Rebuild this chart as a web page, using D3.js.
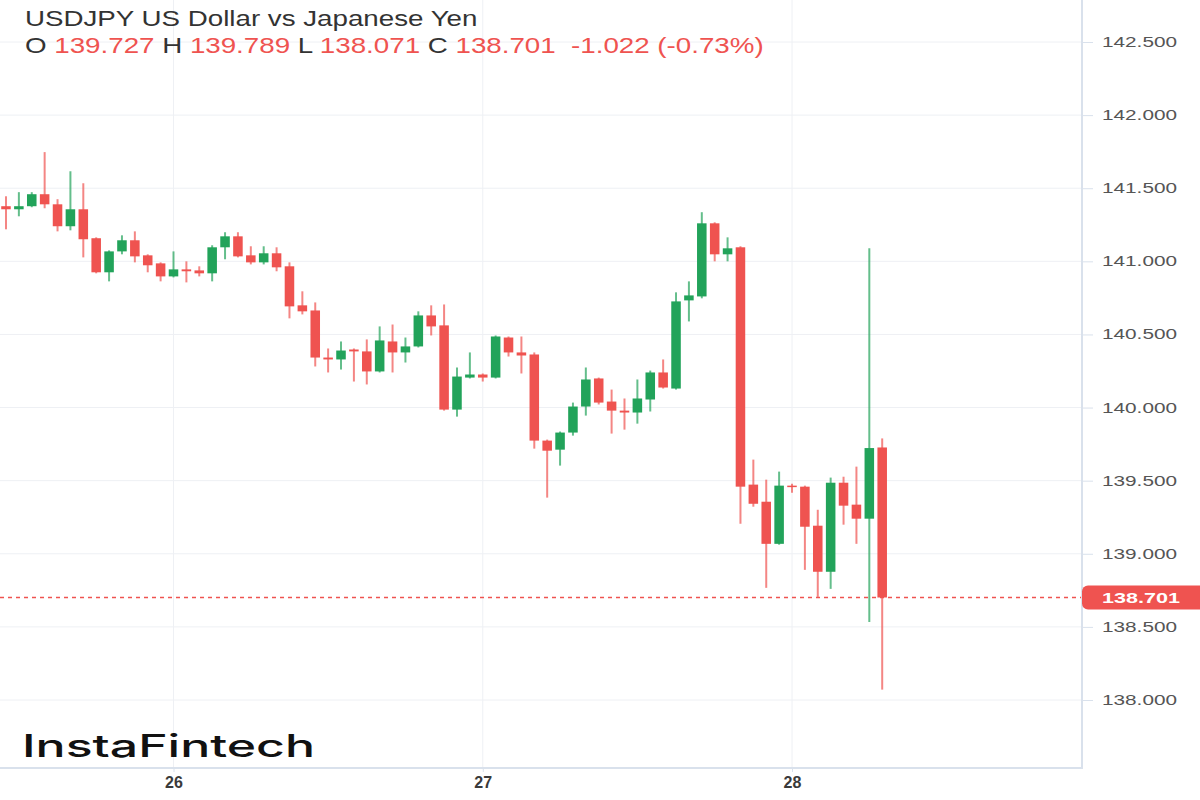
<!DOCTYPE html>
<html>
<head>
<meta charset="utf-8">
<script src="https://cdn.jsdelivr.net/npm/d3@7"></script>
<style>
    html, body { margin: 0; padding: 0; background: #fff; }
    svg { display: block; font-family: "Liberation Sans", Arial, sans-serif; }
</style>
</head>
<body>
<div id="chart"></div>
<script>
// hourly candles, 25 Jul 11:00 -> 28 Jul 07:00
const startHour = "2023-07-25T11:00:00Z";
const endHour = "2023-07-28T08:00:00Z";

const openPrices = [
    141.377, 141.356, 141.377, 141.459, 141.390, 141.240, 141.356, 141.158, 140.925, 141.068, 141.144, 141.041, 140.986,
    140.897, 140.945, 140.938, 140.918, 141.096, 141.171, 141.041, 140.993, 141.055, 140.966, 140.699, 140.664,
    140.342, 140.329, 140.397, 140.384, 140.247, 140.452, 140.377, 140.418, 140.630, 140.562, 139.986, 140.205,
    140.226, 140.205, 140.479, 140.377, 140.363, 139.774, 139.712, 139.829, 140.007, 140.199, 140.041, 139.979,
    139.966, 140.055, 140.240, 140.130, 140.733, 140.760, 141.260, 141.048, 141.096, 139.473, 139.356, 139.068,
    139.466, 139.459, 139.192, 138.877, 139.486, 139.336, 139.240, 139.727
];
const highPrices = [
    141.445, 141.473, 141.473, 141.747, 141.425, 141.616, 141.534, 141.164, 141.075, 141.178, 141.205, 141.048, 140.993,
    141.068, 141.000, 140.966, 141.110, 141.199, 141.199, 141.103, 141.103, 141.096, 140.993, 140.795, 140.719,
    140.404, 140.452, 140.404, 140.466, 140.555, 140.568, 140.479, 140.658, 140.699, 140.705, 140.274, 140.377,
    140.233, 140.493, 140.486, 140.486, 140.377, 139.781, 139.836, 140.034, 140.274, 140.205, 140.123, 140.062,
    140.192, 140.253, 140.329, 140.788, 140.863, 141.336, 141.267, 141.164, 141.103, 139.644, 139.507, 139.562,
    139.479, 139.466, 139.301, 139.521, 139.527, 139.596, 141.090, 139.789
];
const lowPrices = [
    141.219, 141.308, 141.370, 141.363, 141.205, 141.212, 141.027, 140.918, 140.863, 141.048, 140.993, 140.925, 140.863,
    140.890, 140.856, 140.897, 140.863, 141.014, 141.027, 140.979, 140.979, 140.932, 140.610, 140.637, 140.281,
    140.240, 140.260, 140.178, 140.158, 140.240, 140.240, 140.308, 140.411, 140.493, 139.979, 139.938, 140.199,
    140.178, 140.199, 140.349, 140.233, 139.719, 139.384, 139.603, 139.808, 139.945, 140.021, 139.822, 139.849,
    139.890, 139.973, 140.130, 140.123, 140.589, 140.747, 141.000, 141.000, 139.205, 139.322, 138.767, 139.062,
    139.418, 138.890, 138.705, 138.760, 139.199, 139.068, 138.534, 138.071
];
const closePrices = [
    141.356, 141.377, 141.459, 141.390, 141.240, 141.356, 141.151, 140.925, 141.068, 141.144, 141.034, 140.973, 140.897,
    140.945, 140.932, 140.918, 141.096, 141.171, 141.034, 140.993, 141.055, 140.959, 140.692, 140.658, 140.342,
    140.329, 140.390, 140.384, 140.247, 140.459, 140.377, 140.418, 140.630, 140.555, 139.986, 140.212, 140.226,
    140.205, 140.486, 140.377, 140.356, 139.774, 139.705, 139.829, 140.007, 140.192, 140.034, 139.979, 139.966,
    140.062, 140.240, 140.137, 140.726, 140.767, 141.260, 141.048, 141.089, 139.459, 139.342, 139.068, 139.466,
    139.459, 139.185, 138.877, 139.486, 139.329, 139.240, 139.723, 138.701
];

const dayTicks = ["2023-07-26T00:00:00Z", "2023-07-27T00:00:00Z", "2023-07-28T00:00:00Z"];
const priceTicks = [138.0, 138.5, 139.0, 139.5, 140.0, 140.5, 141.0, 141.5, 142.0, 142.5];
const lastPrice = 138.701;

const titleText = "USDJPY US Dollar vs Japanese Yen";
const ohlcKeys = ["O", "H", "L", "C"];
const ohlcValues = ["139.727", "139.789", "138.071", "138.701"];
const changeText = "-1.022 (-0.73%)";
const logoText = "InstaFintech";

const width = 1200;
const height = 800;
const plotRight = 1082;
const plotBottom = 768;

const upColor = "#22a35a";
const downColor = "#ef5350";
const gridColor = "#eef0f4";
const borderColor = "#d9e1ec";

let times = d3.utcHour.range(new Date(startHour), new Date(endHour));
let candles = times.map((t, i) => ({
    time: t,
    open: openPrices[i],
    high: highPrices[i],
    low: lowPrices[i],
    close: closePrices[i]
}));

let x = d3.scaleUtc()
    .domain([new Date(dayTicks[0]), new Date(dayTicks[2])])
    .range([173.5, 792]);

let y = d3.scaleLinear()
    .domain([138, 142.5])
    .range([700, 42]);

let step = x(times[1]) - x(times[0]);
let bodyWidth = step * 0.74;

let svg = d3.select("#chart")
    .append("svg")
    .attr("width", width)
    .attr("height", height);

svg.append("clipPath")
    .attr("id", "plot-clip")
    .append("rect")
    .attr("x", 0)
    .attr("y", 0)
    .attr("width", plotRight)
    .attr("height", plotBottom);

// grid
let grid = svg.append("g").attr("class", "grid");

grid.selectAll("line.h")
    .data(priceTicks)
    .enter().append("line")
    .attr("class", "h")
    .attr("x1", 0)
    .attr("x2", plotRight)
    .attr("y1", d => y(d))
    .attr("y2", d => y(d))
    .attr("stroke", gridColor)
    .attr("stroke-width", 1);

grid.selectAll("line.v")
    .data(dayTicks)
    .enter().append("line")
    .attr("class", "v")
    .attr("x1", d => x(new Date(d)))
    .attr("x2", d => x(new Date(d)))
    .attr("y1", 0)
    .attr("y2", plotBottom)
    .attr("stroke", gridColor)
    .attr("stroke-width", 1);

// candles
let candleG = svg.append("g")
    .attr("class", "candles")
    .attr("clip-path", "url(#plot-clip)")
    .selectAll("g")
    .data(candles)
    .enter().append("g");

candleG.append("line")
    .attr("x1", d => x(d.time))
    .attr("x2", d => x(d.time))
    .attr("y1", d => y(d.high))
    .attr("y2", d => y(d.low))
    .attr("stroke", d => d.close >= d.open ? upColor : downColor)
    .attr("stroke-width", 2)
    .attr("stroke-opacity", 0.7);

candleG.append("rect")
    .attr("x", d => x(d.time) - bodyWidth / 2)
    .attr("y", d => y(Math.max(d.open, d.close)))
    .attr("width", bodyWidth)
    .attr("height", d => Math.max(1.5, Math.abs(y(d.open) - y(d.close))))
    .attr("fill", d => d.close >= d.open ? upColor : downColor);

// last price line
svg.append("line")
    .attr("x1", 0)
    .attr("x2", plotRight)
    .attr("y1", Math.round(y(lastPrice)) + 0.5)
    .attr("y2", Math.round(y(lastPrice)) + 0.5)
    .attr("stroke", downColor)
    .attr("stroke-width", 1.3)
    .attr("stroke-dasharray", "4,4");

// borders
svg.append("line")
    .attr("x1", plotRight).attr("x2", plotRight)
    .attr("y1", 0).attr("y2", plotBottom)
    .attr("stroke", borderColor).attr("stroke-width", 2);

svg.append("line")
    .attr("x1", 0).attr("x2", plotRight + 1)
    .attr("y1", plotBottom).attr("y2", plotBottom)
    .attr("stroke", borderColor).attr("stroke-width", 2);

// price axis
let yAxis = svg.append("g")
    .attr("transform", `translate(${plotRight + 1},0)`)
    .call(d3.axisRight(y)
        .tickValues(priceTicks)
        .tickSize(10)
        .tickPadding(9)
        .tickFormat(d3.format(".3f")));

yAxis.select(".domain").remove();
yAxis.selectAll(".tick line").attr("stroke", borderColor);
yAxis.selectAll(".tick text")
    .attr("fill", "#555")
    .style("font-size", "14px")
    .attr("textLength", 75)
    .attr("lengthAdjust", "spacingAndGlyphs");

// time axis
let xAxis = svg.append("g")
    .attr("transform", `translate(0,${plotBottom})`)
    .call(d3.axisBottom(x)
        .tickValues(dayTicks.map(d => new Date(d)))
        .tickSize(4)
        .tickPadding(5)
        .tickFormat(d3.utcFormat("%-d")));

xAxis.select(".domain").remove();
xAxis.selectAll(".tick line").attr("stroke", borderColor);
xAxis.selectAll(".tick text")
    .attr("fill", "#3a3a3a")
    .style("font-size", "16px")
    .style("font-weight", "bold");

// last price badge
svg.append("rect")
    .attr("x", plotRight)
    .attr("y", y(lastPrice) - 12)
    .attr("width", 130)
    .attr("height", 24)
    .attr("rx", 6)
    .attr("fill", downColor);

svg.append("text")
    .attr("x", plotRight + 20)
    .attr("y", y(lastPrice) + 5.5)
    .attr("fill", "#fff")
    .style("font-size", "15px")
    .style("font-weight", "bold")
    .attr("textLength", 78)
    .attr("lengthAdjust", "spacingAndGlyphs")
    .text(d3.format(".3f")(lastPrice));

// legend text
let legend = svg.append("g")
    .attr("transform", "translate(25,0) scale(1.29,1)");

legend.append("text")
    .attr("x", 0)
    .attr("y", 26)
    .attr("fill", "#333")
    .style("font-size", "21.5px")
    .text(titleText);

let ohlc = legend.append("text")
    .attr("x", 0)
    .attr("y", 53)
    .style("font-size", "21.5px")
    .style("white-space", "pre");

ohlcKeys.forEach((k, i) => {
    ohlc.append("tspan").attr("fill", "#333").text((i ? " " : "") + k + " ");
    ohlc.append("tspan").attr("fill", downColor).text(ohlcValues[i]);
});
ohlc.append("tspan").attr("fill", downColor).text("  " + changeText);

// logo
svg.append("text")
    .attr("x", 22)
    .attr("y", 757)
    .attr("fill", "#111")
    .style("font-family", "Inter, 'Noto Sans', sans-serif")
    .style("font-size", "31px")
    .style("font-weight", 500)
    .attr("textLength", 293)
    .attr("lengthAdjust", "spacingAndGlyphs")
    .text(logoText);
</script>
</body>
</html>
